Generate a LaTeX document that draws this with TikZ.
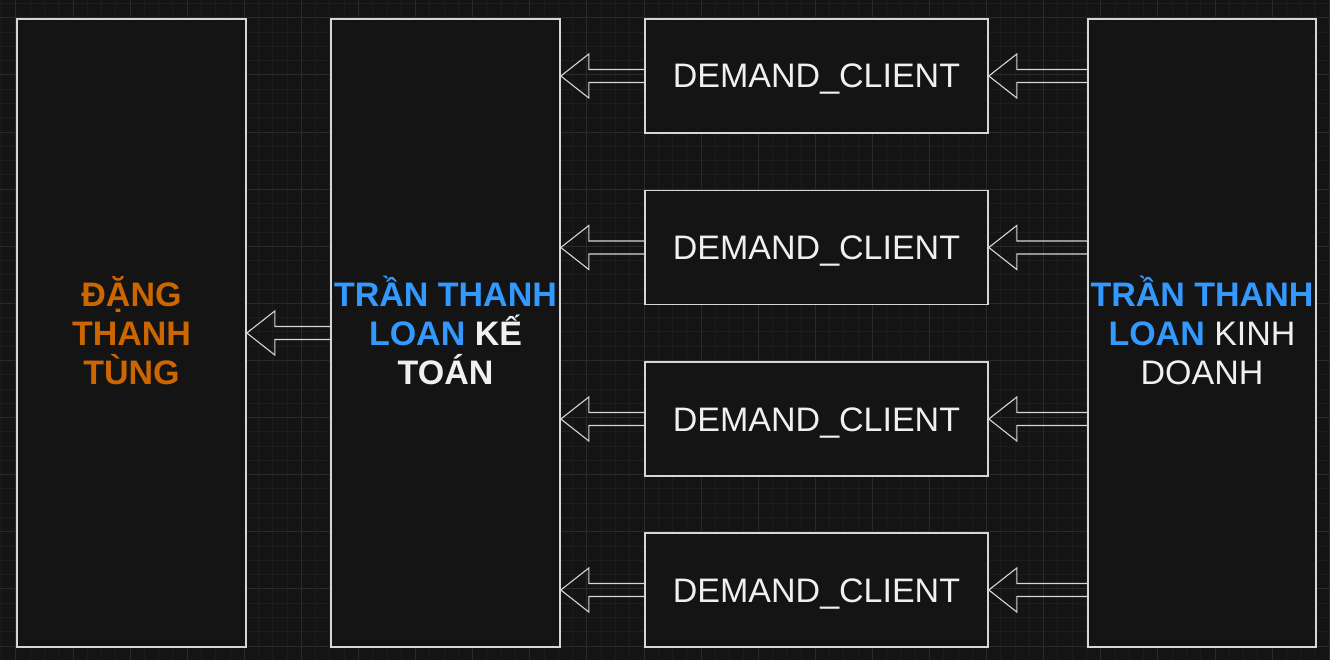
\documentclass[tikz,border=0pt]{standalone}
\usepackage{fontspec}
\setmainfont{Liberation Sans}
\usetikzlibrary{calc}
\definecolor{bgc}{HTML}{141414}
\definecolor{minorc}{HTML}{1D1D1D}
\definecolor{majorc}{HTML}{2A2A2A}
\definecolor{strokec}{HTML}{D6D6D6}
\definecolor{txtc}{HTML}{F0F0F0}
\definecolor{orangec}{HTML}{CC6600}
\definecolor{bluec}{HTML}{3399FF}
\newcommand\topstrut{\rule{0pt}{32pt}}
\newcommand\botstrut{\rule[-8pt]{0pt}{8pt}}
\newcommand\onestrut{\rule[-8pt]{0pt}{40pt}}
\newcommand\flexarrow[2]{%
  \draw[arrowline] let \p1=(#1), \p2=(#2) in
    (\x1,\y1+6.5pt) -- (\x2+28pt,\y1+6.5pt) -- (\x2+28pt,\y1+22pt) -- (\x2,\y1)
    -- (\x2+28pt,\y1-22pt) -- (\x2+28pt,\y1-6.5pt) -- (\x1,\y1-6.5pt);}
\tikzset{
  box/.style={draw=strokec, fill=bgc, line width=1.6pt, rectangle, inner sep=0pt,
    align=center, text=txtc, font=\fontsize{34}{39}\selectfont},
  tallbox/.style={box, minimum width=229pt, minimum height=628pt},
  demandbox/.style={box, minimum width=343pt, minimum height=114pt},
  arrowline/.style={draw=strokec, line width=1.1pt, line join=miter},
  minorgrid/.style={draw=minorc, line width=1pt},
  majorgrid/.style={draw=majorc, line width=1pt}
}
\begin{document}
\begin{tikzpicture}[x=1pt,y=-1pt]
\useasboundingbox (0,0) rectangle (1330,660);
\fill[bgc] (0,0) rectangle (1330,660);
\begin{scope}
\clip (0,0) rectangle (1330,660);
\foreach \i in {-1,...,93} {
  \pgfmathsetmacro\gx{15.9+\i*14.275}
  \draw[minorgrid] (\gx,0) -- (\gx,660);
}
\foreach \i in {-2,...,45} {
  \pgfmathsetmacro\gy{17.9+\i*14.275}
  \draw[minorgrid] (0,\gy) -- (1330,\gy);
}
\foreach \i in {0,...,23} {
  \pgfmathsetmacro\gx{15.9+\i*57.1}
  \draw[majorgrid] (\gx,0) -- (\gx,660);
}
\foreach \i in {0,...,11} {
  \pgfmathsetmacro\gy{17.9+\i*57.1}
  \draw[majorgrid] (0,\gy) -- (1330,\gy);
}
\end{scope}

\node[tallbox, text=orangec] (A) at (131.5,333)
  {\topstrut\textbf{ĐẶNG}\\\textbf{THANH}\\\textbf{TÙNG}\botstrut};
\node[tallbox] (B) at (445.5,333)
  {\topstrut\textcolor{bluec}{\textbf{TRẦN THANH}}\\\textcolor{bluec}{\textbf{LOAN}} \textbf{KẾ}\\\textbf{TOÁN}\botstrut};
\node[tallbox, minimum width=228pt] (C) at (1202,333)
  {\topstrut\textcolor{bluec}{\textbf{TRẦN THANH}}\\\textcolor{bluec}{\textbf{LOAN}} KINH\\DOANH\botstrut};

\node[demandbox] (d1) at (816.5,76) {\onestrut DEMAND\_CLIENT};
\node[demandbox] (d2) at (816.5,247.5) {\onestrut DEMAND\_CLIENT};
\node[demandbox] (d3) at (816.5,419) {\onestrut DEMAND\_CLIENT};
\node[demandbox] (d4) at (816.5,590) {\onestrut DEMAND\_CLIENT};

\foreach \d in {d1,d2,d3,d4} {
  \flexarrow{C.west |- \d.east}{\d.east}
  \flexarrow{\d.west}{B.east |- \d.west}
}
\flexarrow{B.west}{A.east}
\end{tikzpicture}
\end{document}
